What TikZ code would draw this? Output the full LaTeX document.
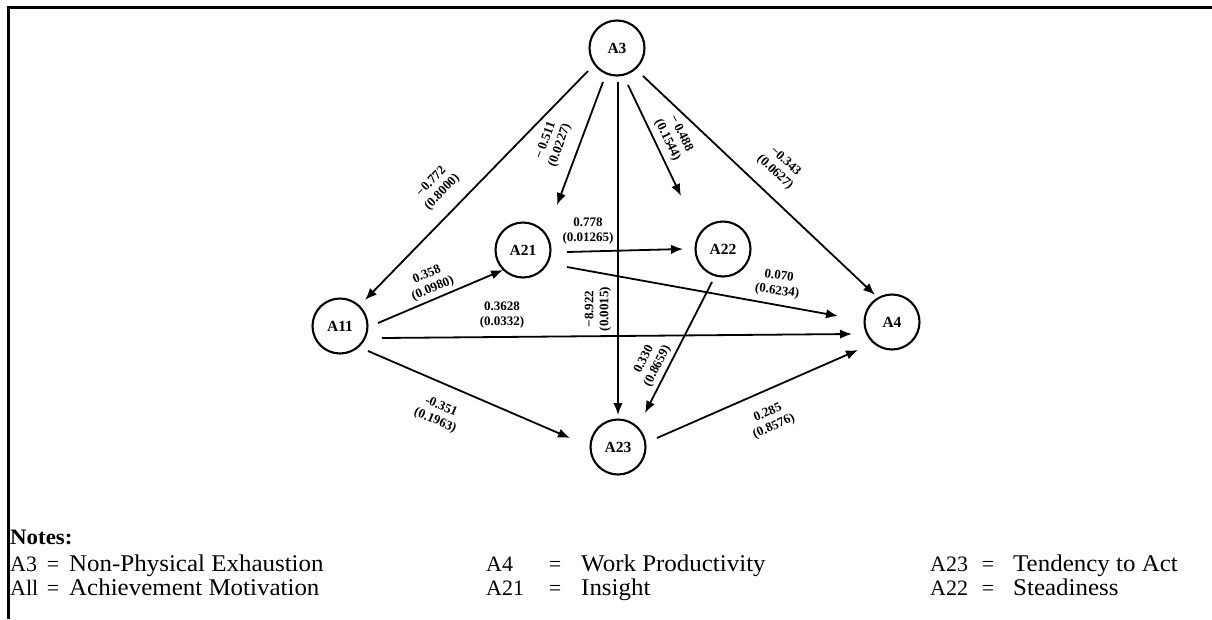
\documentclass[tikz,border=0pt]{standalone}
\usepackage{fontspec}
\setmainfont{Liberation Serif}
\newfontfamily\notefont[FakeStretch=1.04]{Liberation Serif}
\usetikzlibrary{arrows.meta,calc}
\begin{document}
\begin{tikzpicture}[x=1pt,y=-1pt,
  nd/.style={circle,draw,line width=2.1pt,minimum size=55pt,inner sep=0pt,font=\fontsize{15.5}{17}\selectfont\bfseries},
  arr/.style={line width=1.8pt,-{Latex[length=12pt,width=9.5pt]}},
  lab/.style={font=\fontsize{13}{15}\selectfont\bfseries,align=center,inner sep=0pt},
  nt/.style={font=\notefont\fontsize{24}{28}\selectfont,anchor=base west,inner sep=0pt},
  noteid/.style={font=\fontsize{22}{26}\selectfont,anchor=base west,inner sep=0pt},
  eqsign/.style={font=\fontsize{22}{26}\selectfont,anchor=base,inner sep=0pt},
  frame/.style={line width=3pt}]
\useasboundingbox (0,0) rectangle (1212,619);
\draw[frame] (8.5,619) -- (8.5,7) -- (1212,7);

% nodes
\node[nd] (A3)  at (617,48)  {A3};
\node[nd] (A21) at (523,250) {A21};
\node[nd] (A22) at (723,249) {A22};
\node[nd] (A11) at (340,326) {A11};
\node[nd] (A4)  at (892,322) {A4};
\node[nd] (A23) at (618,447) {A23};

% connectors
\draw[arr] ($(A3)+(-29,23)$) -- ($(A11)+(25,-26)$);
\draw[arr] ($(A3)+(-14,34)$) -- ($(A21)+(34,-45)$);
\draw[arr] ($(A3)+(1,34)$) -- ($(A23)+(0,-32)$);
\draw[arr] ($(A3)+(11,37)$) -- ($(A22)+(-42,-53)$);
\draw[arr] ($(A3)+(26,28)$) -- ($(A4)+(-17,-27)$);
\draw[arr] ($(A11)+(38,-3)$) -- ($(A21)+(-20,20)$);
\draw[arr] ($(A21)+(44,2)$) -- ($(A22)+(-40,0)$);
\draw[arr] ($(A21)+(44,17)$) -- ($(A4)+(-54,-6)$);
\draw[arr] ($(A11)+(42,12)$) -- ($(A4)+(-40,12)$);
\draw[arr] ($(A22)+(-11,33)$) -- ($(A23)+(27,-34)$);
\draw[arr] ($(A11)+(28,25)$) -- ($(A23)+(-48,-9)$);
\draw[arr] ($(A23)+(39,-9)$) -- ($(A4)+(-34,28)$);

% labels
\node[lab,rotate=46]  (l1)  at (437,187) {−0.772\\(0.8000)};
\node[lab,rotate=70]  (l2)  at (553,143) {−\,0.511\\(0.0227)};
\node[lab,rotate=90]  (l3)  at (598,309) {−8.922\\(0.0015)};
\node[lab,rotate=-64] (l4)  at (674,137) {−\,0.488\\(0.1544)};
\node[lab,rotate=-43] (l5)  at (780,167) {−0.343\\(0.0627)};
\node[lab,rotate=23]  (l6)  at (430,282) {0.358\\(0.0980)};
\node[lab]            (l7)  at (588,231) {0.778\\(0.01265)};
\node[lab,rotate=-8]  (l8)  at (778,284) {0.070\\(0.6234)};
\node[lab]            (l9)  at (502,315) {0.3628\\(0.0332)};
\node[lab,rotate=63]  (l10) at (651,363) {0.330\\(0.8659)};
\node[lab,rotate=-23] (l11) at (438,414) {-0.351\\(0.1963)};
\node[lab,rotate=24]  (l12) at (771,420) {0.285\\(0.8576)};

% notes
\node[nt,font=\notefont\fontsize{22}{26}\selectfont\bfseries] (n0) at (10,544) {Notes:};
\node[noteid] (n1a) at (10,571) {A3};
\node[eqsign] (n1b) at (53,571) {=};
\node[nt] (n1c) at (69,571) {Non-Physical Exhaustion};
\node[noteid] (n2a) at (10,595) {All};
\node[eqsign] (n2b) at (53,595) {=};
\node[nt] (n2c) at (69,595) {Achievement Motivation};
\node[noteid] (n3a) at (486,571) {A4};
\node[eqsign] (n3b) at (555,571) {=};
\node[nt] (n3c) at (581,571) {Work Productivity};
\node[noteid] (n4a) at (486,595) {A21};
\node[eqsign] (n4b) at (555,595) {=};
\node[nt] (n4c) at (581,595) {Insight};
\node[noteid] (n5a) at (930,571) {A23};
\node[eqsign] (n5b) at (988,571) {=};
\node[nt] (n5c) at (1013,571) {Tendency to Act};
\node[noteid] (n6a) at (930,595) {A22};
\node[eqsign] (n6b) at (988,595) {=};
\node[nt] (n6c) at (1013,595) {Steadiness};
\end{tikzpicture}
\end{document}
